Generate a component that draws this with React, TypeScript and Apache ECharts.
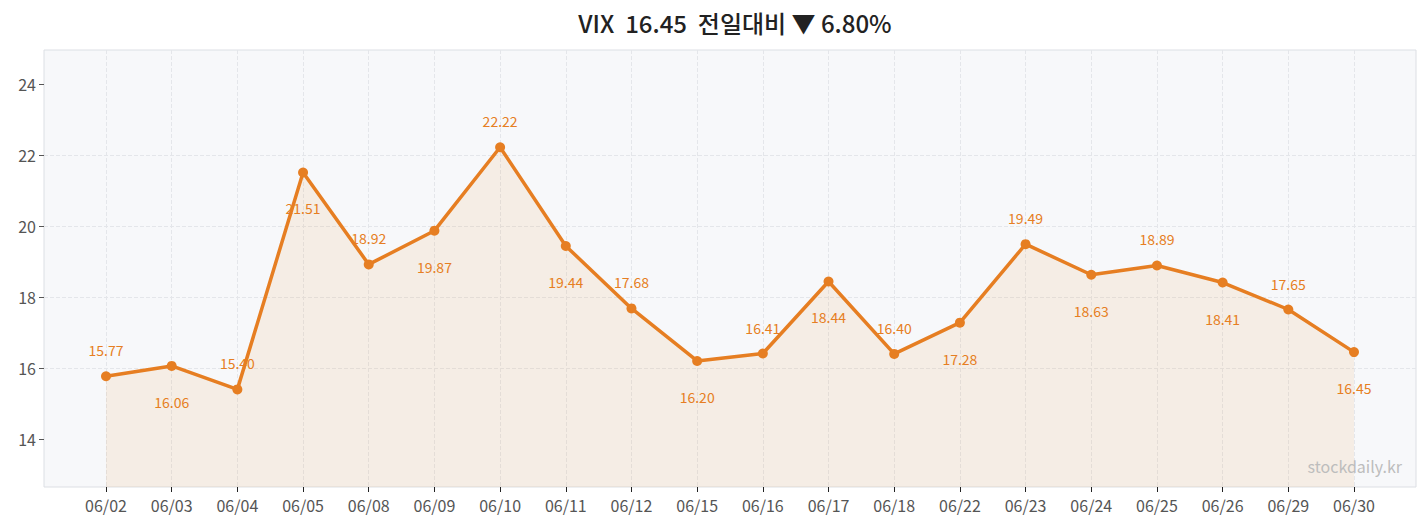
import React, { useEffect, useRef } from "react";
import * as echarts from "echarts";

const categories = ["06/02","06/03","06/04","06/05","06/08","06/09","06/10","06/11","06/12","06/15","06/16","06/17","06/18","06/22","06/23","06/24","06/25","06/26","06/29","06/30"];
const values = [15.77,16.06,15.40,21.51,18.92,19.87,22.22,19.44,17.68,16.20,16.41,18.44,16.40,17.28,19.49,18.63,18.89,18.41,17.65,16.45];
const yTicks = [14, 16, 18, 20, 22, 24];
const titleText = "VIX  16.45  전일대비 ▼ 6.80%";
const watermark = "stockdaily.kr";

const FONT = "'Noto Sans CJK KR', 'Noto Sans', sans-serif";
const ORANGE = "#e67e22";

export default function App() {
  const ref = useRef<HTMLDivElement>(null);
  useEffect(() => {
    document.body.style.margin = "0";
    const chart = echarts.init(ref.current!, null, { renderer: "svg" });
    const xIdx = categories.map((_, i) => i);
    chart.setOption({
      animation: false,
      textStyle: { fontFamily: FONT },
      title: {
        text: titleText,
        left: 730,
        textAlign: "center",
        top: 5,
        textStyle: { fontSize: 24, fontWeight: 500, color: "#222", fontFamily: FONT },
      },
      graphic: [
        {
          type: "text",
          right: 26,
          top: 458,
          style: { text: watermark, fill: "#bdbdbd", fontSize: 16, fontFamily: FONT },
          z: 10,
        },
      ],
      grid: {
        left: 44,
        right: 12,
        top: 50,
        bottom: 40,
        show: true,
        backgroundColor: "#f7f8fa",
        borderColor: "#dcdfe4",
        borderWidth: 1,
      },
      xAxis: {
        type: "value",
        min: -0.944,
        max: categories.length - 1 + 0.944,
        axisLine: { show: false, onZero: false },
        axisTick: { show: true, customValues: xIdx, length: 5, lineStyle: { color: "#222" } },
        axisLabel: {
          customValues: xIdx,
          formatter: (v: number) => categories[Math.round(v)] ?? "",
          color: "#555",
          fontSize: 16,
          margin: 10,
          fontFamily: FONT,
        },
        splitLine: { show: true, lineStyle: { type: "dashed", color: "#e4e6ea" } },
      },
      yAxis: {
        type: "value",
        min: 12.65,
        max: 24.96,
        axisLine: { show: false, onZero: false },
        axisTick: { show: true, customValues: yTicks, length: 5, lineStyle: { color: "#555" } },
        axisLabel: { customValues: yTicks, color: "#555", fontSize: 16, margin: 8, fontFamily: FONT },
        splitLine: { show: true, showMinLine: false, showMaxLine: false, lineStyle: { type: "dashed", color: "#e4e6ea" } },
      },
      series: [
        {
          type: "line",
          data: values.map((v, i) => ({
            value: [i, v],
            label: {
              position: i % 2 === 0 ? "top" : "bottom",
              distance: i % 2 === 0 ? 14 : 24,
            },
          })),
          symbol: "circle",
          symbolSize: 10,
          itemStyle: { color: ORANGE },
          lineStyle: { color: ORANGE, width: 3.5 },
          areaStyle: { color: "rgba(226,156,72,0.16)", origin: "start" },
          label: {
            show: true,
            color: ORANGE,
            fontSize: 14,
            fontFamily: FONT,
            formatter: (p: any) => p.value[1].toFixed(2),
          },
        },
      ],
    });
    return () => chart.dispose();
  }, []);
  return <div ref={ref} style={{ width: 1428, height: 527 }} />;
}
